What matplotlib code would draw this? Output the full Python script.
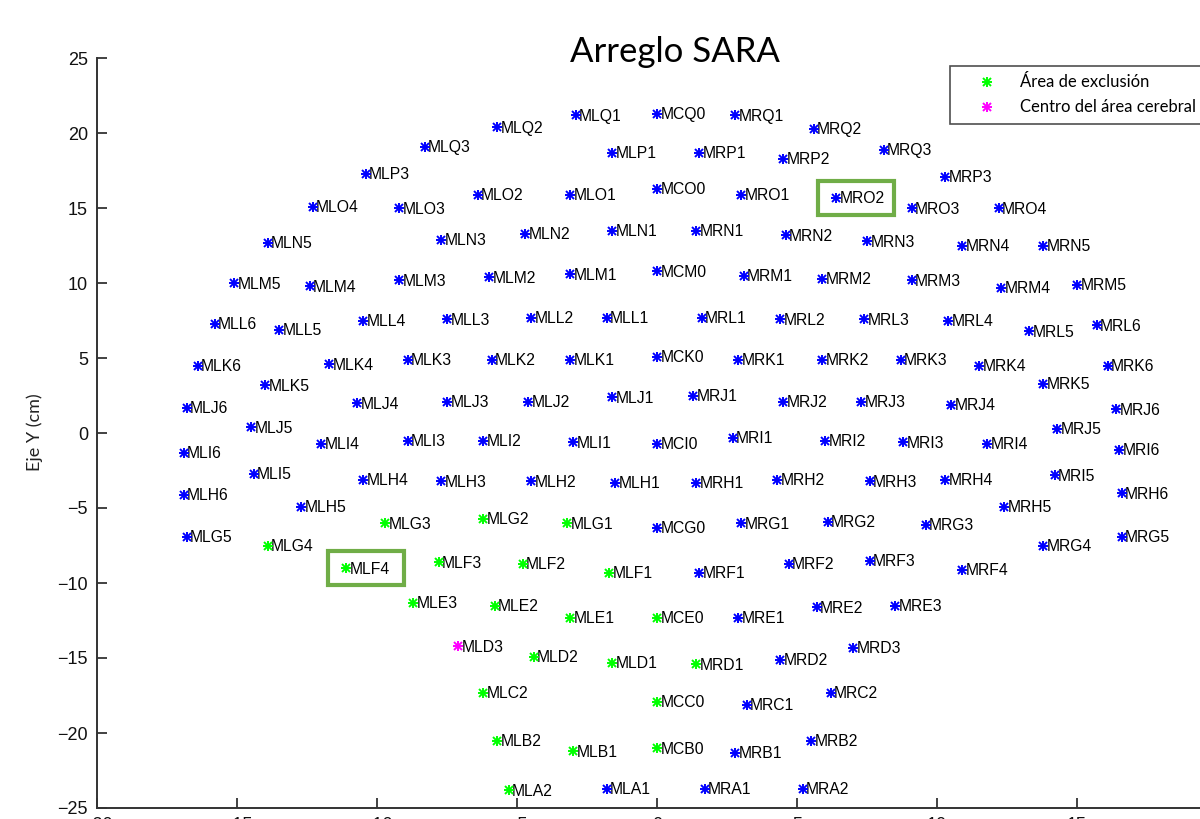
import matplotlib
matplotlib.use("Agg")
import matplotlib.pyplot as plt
from matplotlib.patches import Rectangle

# ---------------- data (sensor positions in cm) ----------------
sensor_names = [
    "MLQ3", "MLQ2", "MLQ1", "MCQ0", "MRQ1", "MRQ2", "MRQ3",
    "MLP3", "MLP1", "MRP1", "MRP2", "MRP3",
    "MLO4", "MLO3", "MLO2", "MLO1", "MCO0", "MRO1", "MRO2", "MRO3", "MRO4",
    "MLN5", "MLN3", "MLN2", "MLN1", "MRN1", "MRN2", "MRN3", "MRN4", "MRN5",
    "MLM5", "MLM4", "MLM3", "MLM2", "MLM1", "MCM0", "MRM1", "MRM2", "MRM3", "MRM4", "MRM5",
    "MLL6", "MLL5", "MLL4", "MLL3", "MLL2", "MLL1", "MRL1", "MRL2", "MRL3", "MRL4", "MRL5", "MRL6",
    "MLK6", "MLK5", "MLK4", "MLK3", "MLK2", "MLK1", "MCK0", "MRK1", "MRK2", "MRK3", "MRK4", "MRK5", "MRK6",
    "MLJ6", "MLJ5", "MLJ4", "MLJ3", "MLJ2", "MLJ1", "MRJ1", "MRJ2", "MRJ3", "MRJ4", "MRJ5", "MRJ6",
    "MLI6", "MLI5", "MLI4", "MLI3", "MLI2", "MLI1", "MCI0", "MRI1", "MRI2", "MRI3", "MRI4", "MRI5", "MRI6",
    "MLH6", "MLH5", "MLH4", "MLH3", "MLH2", "MLH1", "MRH1", "MRH2", "MRH3", "MRH4", "MRH5", "MRH6",
    "MLG5", "MLG4", "MLG3", "MLG2", "MLG1", "MCG0", "MRG1", "MRG2", "MRG3", "MRG4", "MRG5",
    "MLF4", "MLF3", "MLF2", "MLF1", "MRF1", "MRF2", "MRF3", "MRF4",
    "MLE3", "MLE2", "MLE1", "MCE0", "MRE1", "MRE2", "MRE3",
    "MLD3", "MLD2", "MLD1", "MRD1", "MRD2", "MRD3",
    "MLC2", "MCC0", "MRC1", "MRC2",
    "MLB2", "MLB1", "MCB0", "MRB1", "MRB2",
    "MLA2", "MLA1", "MRA1", "MRA2",
]
sensor_x = [
    -8.3, -5.7, -2.9, 0.0, 2.8, 5.6, 8.1,
    -10.4, -1.6, 1.5, 4.5, 10.3,
    -12.3, -9.2, -6.4, -3.1, 0.0, 3.0, 6.4, 9.1, 12.2,
    -13.9, -7.7, -4.7, -1.6, 1.4, 4.6, 7.5, 10.9, 13.8,
    -15.1, -12.4, -9.2, -6.0, -3.1, 0.0, 3.1, 5.9, 9.1, 12.3, 15.0,
    -15.8, -13.5, -10.5, -7.5, -4.5, -1.8, 1.6, 4.4, 7.4, 10.4, 13.3, 15.7,
    -16.4, -14.0, -11.7, -8.9, -5.9, -3.1, 0.0, 2.9, 5.9, 8.7, 11.5, 13.8, 16.1,
    -16.8, -14.5, -10.7, -7.5, -4.6, -1.6, 1.3, 4.5, 7.3, 10.5, 14.3, 16.4,
    -16.9, -14.4, -12.0, -8.9, -6.2, -3.0, 0.0, 2.7, 6.0, 8.8, 11.8, 14.2, 16.5,
    -16.9, -12.7, -10.5, -7.7, -4.5, -1.5, 1.4, 4.3, 7.6, 10.3, 12.4, 16.6,
    -16.8, -13.9, -9.7, -6.2, -3.2, 0.0, 3.0, 6.1, 9.6, 13.8, 16.6,
    -11.1, -7.8, -4.8, -1.7, 1.5, 4.7, 7.6, 10.9,
    -8.7, -5.8, -3.1, 0.0, 2.9, 5.7, 8.5,
    -7.1, -4.4, -1.6, 1.4, 4.4, 7.0,
    -6.2, 0.0, 3.2, 6.2,
    -5.7, -3.0, 0.0, 2.8, 5.5,
    -5.3, -1.8, 1.7, 5.2,
]
sensor_y = [
    19.1, 20.4, 21.2, 21.3, 21.2, 20.3, 18.9,
    17.3, 18.7, 18.7, 18.3, 17.1,
    15.1, 15.0, 15.9, 15.9, 16.3, 15.9, 15.7, 15.0, 15.0,
    12.7, 12.9, 13.3, 13.5, 13.5, 13.2, 12.8, 12.5, 12.5,
    10.0, 9.8, 10.2, 10.4, 10.6, 10.8, 10.5, 10.3, 10.2, 9.7, 9.9,
    7.3, 6.9, 7.5, 7.6, 7.7, 7.7, 7.7, 7.6, 7.6, 7.5, 6.8, 7.2,
    4.5, 3.2, 4.6, 4.9, 4.9, 4.9, 5.1, 4.9, 4.9, 4.9, 4.5, 3.3, 4.5,
    1.7, 0.4, 2.0, 2.1, 2.1, 2.4, 2.5, 2.1, 2.1, 1.9, 0.3, 1.6,
    -1.3, -2.7, -0.7, -0.5, -0.5, -0.6, -0.7, -0.3, -0.5, -0.6, -0.7, -2.8, -1.1,
    -4.1, -4.9, -3.1, -3.2, -3.2, -3.3, -3.3, -3.1, -3.2, -3.1, -4.9, -4.0,
    -6.9, -7.5, -6.0, -5.7, -6.0, -6.3, -6.0, -5.9, -6.1, -7.5, -6.9,
    -9.0, -8.6, -8.7, -9.3, -9.3, -8.7, -8.5, -9.1,
    -11.3, -11.5, -12.3, -12.3, -12.3, -11.6, -11.5,
    -14.2, -14.9, -15.3, -15.4, -15.1, -14.3,
    -17.3, -17.9, -18.1, -17.3,
    -20.5, -21.2, -21.0, -21.3, -20.5,
    -23.8, -23.7, -23.7, -23.7,
]
exclusion_names = [
    "MLG4", "MLG3", "MLG2", "MLG1",
    "MLF4", "MLF3", "MLF2", "MLF1",
    "MLE3", "MLE2", "MLE1", "MCE0",
    "MLD2", "MLD1", "MRD1",
    "MLC2", "MCC0",
    "MLB2", "MLB1", "MCB0",
    "MLA2",
]
center_names = ["MLD3"]
highlight_names = ["MRO2", "MLF4"]

legend_labels = ["Área de exclusión", "Centro del área cerebral"]
title_text = "Arreglo SARA"
ylabel_text = "Eje Y (cm)"
x_ticks = [-20, -15, -10, -5, 0, 5, 10, 15, 20]
y_ticks = [-25, -20, -15, -10, -5, 0, 5, 10, 15, 20, 25]

# ---------------- figure ----------------
W, H, DPI = 1200, 819, 100
fig = plt.figure(figsize=(W / DPI, H / DPI), dpi=DPI)
ax = fig.add_axes([97 / W, 11 / H, 1120 / W, 750 / H])
ax.set_xlim(-20, 20)
ax.set_ylim(-25, 25)

blue_x, blue_y, green_x, green_y, mag_x, mag_y = [], [], [], [], [], []
for n, x, y in zip(sensor_names, sensor_x, sensor_y):
    if n in exclusion_names:
        green_x.append(x); green_y.append(y)
    elif n in center_names:
        mag_x.append(x); mag_y.append(y)
    else:
        blue_x.append(x); blue_y.append(y)


def asterisk(xs, ys, color):
    """MATLAB-like '*' marker: '+' overlaid with 'x'."""
    h1, = ax.plot(xs, ys, linestyle="none", marker="+", markersize=7.5,
                  markeredgewidth=1.4, color=color, zorder=3)
    h2, = ax.plot(xs, ys, linestyle="none", marker="x", markersize=5.5,
                  markeredgewidth=1.4, color=color, zorder=3)
    return (h1, h2)


asterisk(blue_x, blue_y, "#0000FF")
hg = asterisk(green_x, green_y, "#00FF00")
hm = asterisk(mag_x, mag_y, "#FF00FF")

for n, x, y in zip(sensor_names, sensor_x, sensor_y):
    ax.annotate(n, (x, y), xytext=(2.4, -1.0), textcoords="offset points",
                ha="left", va="center", fontsize=11.3, family="Liberation Sans",
                color="black", zorder=2)

# highlight boxes around selected sensors (offsets in pixels -> data units)
px_per_x = 1120 / 40.0
px_per_y = 750 / 50.0
for n in highlight_names:
    i = sensor_names.index(n)
    x, y = sensor_x[i], sensor_y[i]
    ax.add_patch(Rectangle((x - 18 / px_per_x, y - 17 / px_per_y),
                           76 / px_per_x, 34 / px_per_y,
                           fill=False, edgecolor="#70AD47", linewidth=3,
                           zorder=4, clip_on=False))

# axes styling
for s in ["top", "right"]:
    ax.spines[s].set_visible(False)
for s in ["left", "bottom"]:
    ax.spines[s].set_color("#333333")
    ax.spines[s].set_linewidth(1.4)
ax.set_xticks(x_ticks)
ax.set_yticks(y_ticks)
ax.tick_params(direction="in", length=7.5, width=1.3, color="#333333",
               labelsize=13, labelcolor="#111111")
ax.tick_params(axis="y", pad=6.5)
ax.tick_params(axis="x", pad=6.5)
for lab in ax.get_xticklabels() + ax.get_yticklabels():
    lab.set_family("Liberation Sans")

# title and y label
fig.text(675 / W, 1 - 62 / H, title_text, ha="center", va="baseline",
         fontsize=25, family="Lato", color="black")
fig.text(35 / W, 1 - 432 / H, ylabel_text, ha="center", va="center",
         rotation=90, fontsize=13, family="Lato", color="#222222")

# legend
leg = fig.legend([hg, hm], legend_labels, loc="upper left",
                 bbox_to_anchor=(950 / W, 1 - 66 / H),
                 bbox_transform=fig.transFigure, borderaxespad=0.0,
                 frameon=True, fancybox=False, numpoints=1,
                 handlelength=3.4, handletextpad=0.3, borderpad=0.5,
                 labelspacing=0.55, prop={"family": "Lato", "size": 12})
leg.get_frame().set_edgecolor("#222222")
leg.get_frame().set_linewidth(1.2)

fig.savefig("out.png", dpi=DPI)
